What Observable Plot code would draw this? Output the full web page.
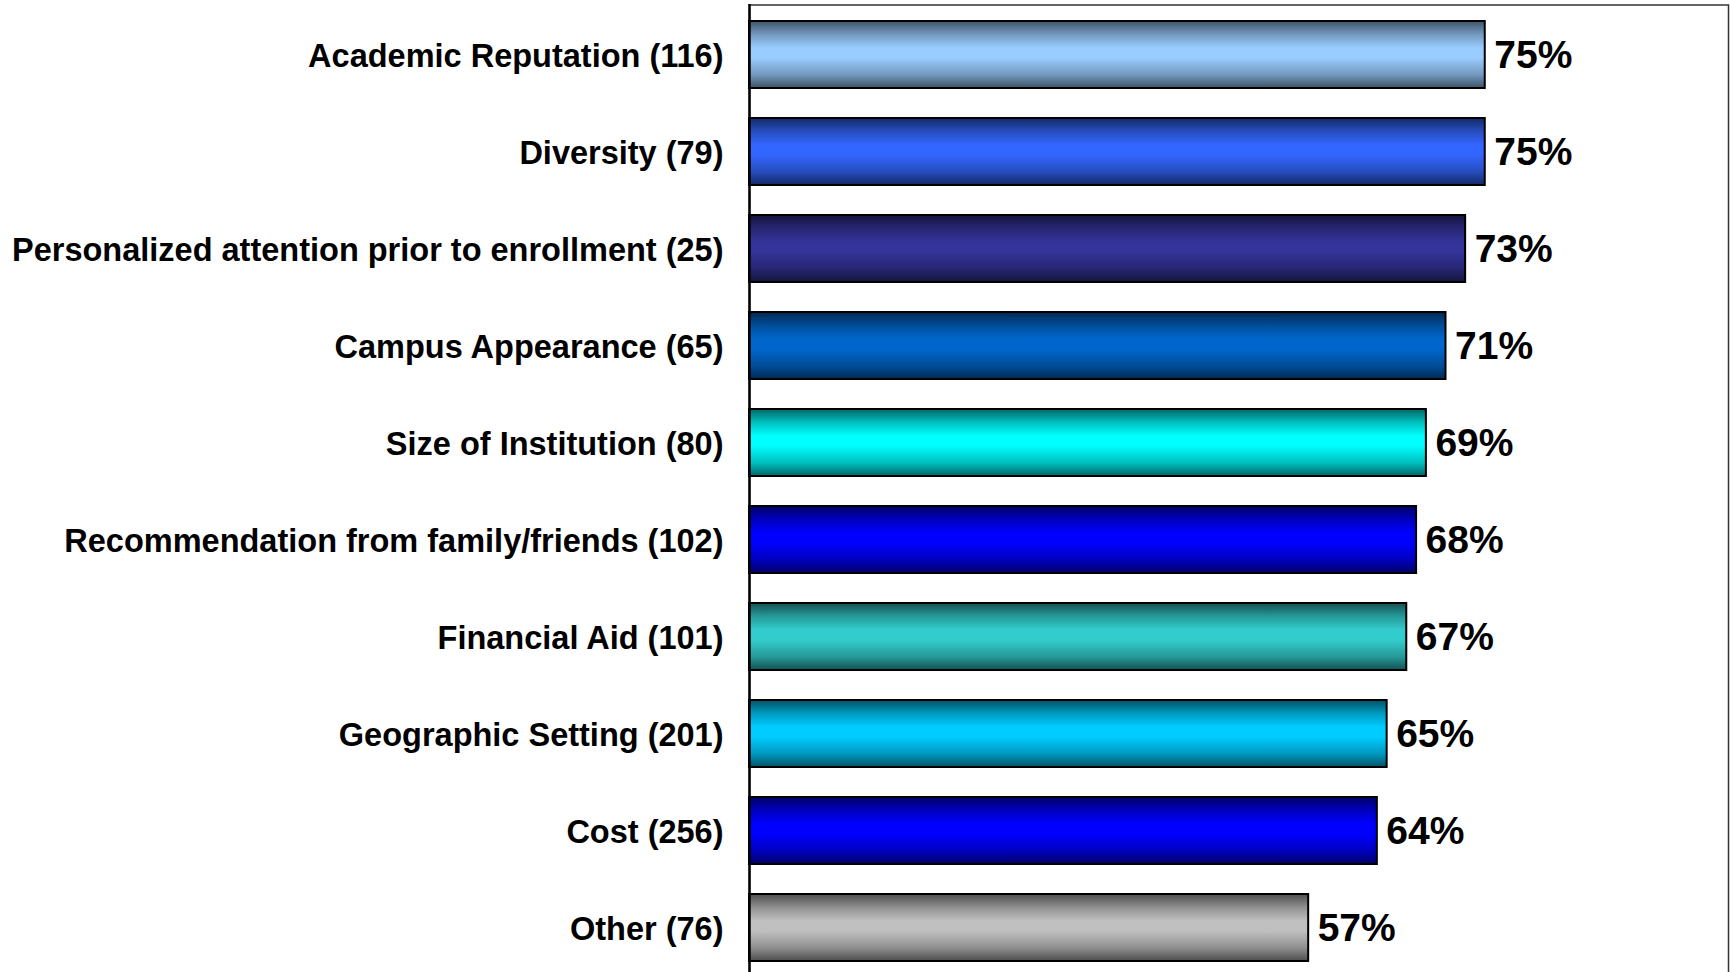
<!DOCTYPE html>
<html>
<head>
<meta charset="utf-8">
<script src="https://cdn.jsdelivr.net/npm/d3@7"></script>
<script src="https://cdn.jsdelivr.net/npm/@observablehq/plot@0.6"></script>
<style>
  html, body { margin: 0; padding: 0; background: #fff; overflow: hidden; }
  #chart svg { display: block; }
</style>
</head>
<body>
<div id="chart"></div>
<script>
const categories = [
  "Academic Reputation",
  "Diversity",
  "Personalized attention prior to enrollment",
  "Campus Appearance",
  "Size of Institution",
  "Recommendation from family/friends",
  "Financial Aid",
  "Geographic Setting",
  "Cost",
  "Other"
];
const counts = [116, 79, 25, 65, 80, 102, 101, 201, 256, 76];
const values = [75, 75, 73, 71, 69, 68, 67, 65, 64, 57];
const barColors = ["#99CCFF", "#3366FF", "#333399", "#0066CC", "#00FFFF", "#0000FF", "#33CCCC", "#00CCFF", "#0000FF", "#C0C0C0"];

const data = categories.map((c, i) => ({
  label: `${c} (${counts[i]})`,
  value: values[i],
  grad: `url(#barGrad${i})`
}));
const order = data.map(d => d.label);

const font = "'Liberation Sans', Arial, sans-serif";

const chart = Plot.plot({
  width: 1730,
  height: 982,
  marginTop: 4,
  marginBottom: 5,
  marginLeft: 749,
  marginRight: 0,
  style: { fontFamily: font, background: "#fff", color: "#000" },
  x: { domain: [0, 100], axis: null },
  y: { domain: order, paddingInner: 0.31, paddingOuter: 0.16, label: null },
  color: { type: "identity" },
  marks: [
    Plot.frame({ stroke: "#333", strokeWidth: 1.5, insetRight: 2, insetTop: 0.5 }),
    Plot.barX(data, { x: "value", y: "label", fill: "grad", stroke: "#000", strokeWidth: 2 }),
    Plot.ruleX([0], { stroke: "#000", strokeWidth: 2.5 }),
    Plot.text(data, {
      x: "value", y: "label", text: d => d.value + "%",
      textAnchor: "start", dx: 9, dy: 1, fontSize: 39, fontWeight: "bold", fill: "#000"
    }),
    Plot.axisY({
      tickSize: 0, tickPadding: 26, dy: 2, fontSize: 32.5, fontWeight: "bold",
      label: null, fill: "#000"
    })
  ]
});

// gradient definitions (vertical: dark edges, bright centre)
const ns = "http://www.w3.org/2000/svg";
const defs = document.createElementNS(ns, "defs");
barColors.forEach((col, i) => {
  const c = d3.rgb(col);
  const dark = d3.rgb(c.r * 0.4, c.g * 0.4, c.b * 0.4).formatHex();
  const mid = d3.rgb(c.r * 0.75, c.g * 0.75, c.b * 0.75).formatHex();
  const g = document.createElementNS(ns, "linearGradient");
  g.setAttribute("id", "barGrad" + i);
  g.setAttribute("x1", "0"); g.setAttribute("y1", "0");
  g.setAttribute("x2", "0"); g.setAttribute("y2", "1");
  [[0, dark], [0.2, mid], [0.4, col], [0.55, col], [0.8, mid], [1, dark]].forEach(([o, cc]) => {
    const s = document.createElementNS(ns, "stop");
    s.setAttribute("offset", o);
    s.setAttribute("stop-color", cc);
    g.appendChild(s);
  });
  defs.appendChild(g);
});
chart.insertBefore(defs, chart.firstChild);

document.getElementById("chart").appendChild(chart);
</script>
</body>
</html>
